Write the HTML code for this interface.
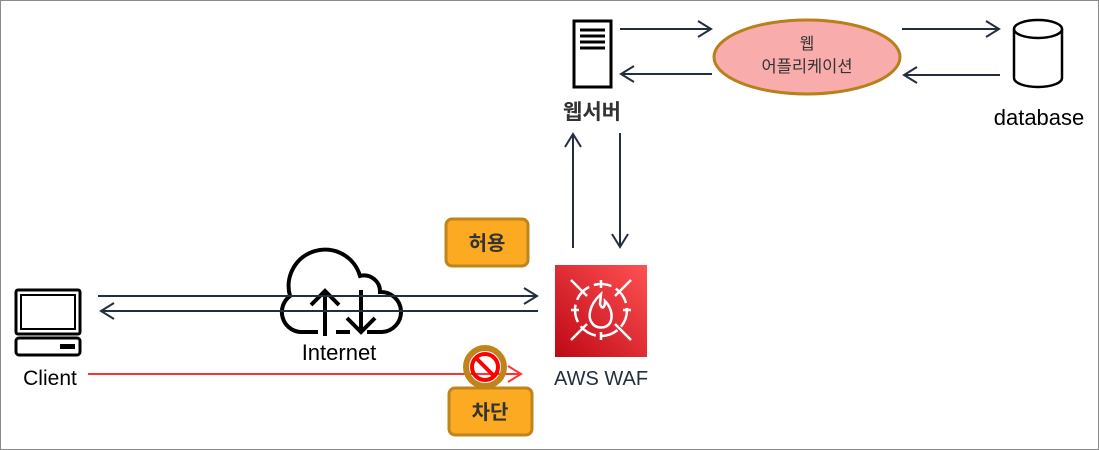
<!DOCTYPE html>
<html><head><meta charset="utf-8"><style>
html,body{margin:0;padding:0;background:#fff;}
svg{display:block;}
text{font-family:"Liberation Sans","Noto Sans CJK KR",sans-serif;}
</style></head><body>
<svg width="1099" height="450" viewBox="0 0 1099 450" xmlns="http://www.w3.org/2000/svg">
<defs>
<linearGradient id="waf" x1="0" y1="1" x2="1" y2="0">
<stop offset="0" stop-color="#bd0816"/><stop offset="1" stop-color="#ff5252"/>
</linearGradient>
</defs>
<rect x="0.5" y="0.5" width="1098" height="449" fill="#fff" stroke="#8a8a8a"/>
<g fill="none" stroke="#232f3e" stroke-width="2">
<line x1="620" y1="29" x2="710" y2="29"/><polyline points="698,21 711,29 698,37"/>
<line x1="712" y1="74" x2="622" y2="74"/><polyline points="634,66 621,74 634,82"/>
<line x1="902" y1="29" x2="998" y2="29"/><polyline points="986,21 999,29 986,37"/>
<line x1="1000" y1="75" x2="905" y2="75"/><polyline points="917,67 904,75 917,83"/>
<line x1="573" y1="248" x2="573" y2="135"/><polyline points="565,147 573,134 581,147"/>
<line x1="620" y1="133" x2="620" y2="246"/><polyline points="612,234 620,247 628,234"/>
<line x1="98" y1="296" x2="536" y2="296"/><polyline points="524,288 537,296 524,304"/>
<line x1="538" y1="311" x2="102" y2="311"/><polyline points="114,303 101,311 114,319"/>
</g>
<g fill="none" stroke="#f33" stroke-width="2">
<line x1="88" y1="374" x2="520" y2="374"/><polyline points="508,366 521,374 508,382"/>
</g>
<g fill="none" stroke="#000" stroke-width="3">
<rect x="574" y="21" width="37" height="66" fill="#fff"/>
<line x1="580" y1="30" x2="605" y2="30"/><line x1="580" y1="36" x2="605" y2="36"/>
<line x1="580" y1="42" x2="605" y2="42"/><line x1="580" y1="48" x2="605" y2="48"/>
</g>
<text x="592" y="119" font-size="21" font-weight="bold" text-anchor="middle" fill="#333">웹서버</text>
<ellipse cx="807" cy="57" rx="93" ry="37" fill="#f8acac" stroke="#b8801a" stroke-width="3"/>
<text x="807" y="49" font-size="16" text-anchor="middle" fill="#333">웹</text>
<text x="807" y="72" font-size="16.5" text-anchor="middle" fill="#333">어플리케이션</text>
<g fill="#fff" stroke="#000" stroke-width="2.5">
<path d="M1014,29 V78 A24,9 0 0 0 1062,78 V29"/>
<ellipse cx="1038" cy="29" rx="24" ry="9"/>
</g>
<text x="1039" y="125" font-size="22" text-anchor="middle" fill="#000">database</text>
<rect x="446" y="219" width="82" height="47" rx="6" fill="#fbaa22" stroke="#c0841a" stroke-width="3"/>
<text x="487" y="250" font-size="20" font-weight="bold" text-anchor="middle" fill="#333">허용</text>
<rect x="555" y="265" width="92" height="92" fill="url(#waf)"/>
<g fill="none" stroke="#fff" stroke-width="2.5">
<circle cx="601" cy="310" r="26" stroke-dasharray="18 5"/>
<line x1="571" y1="280" x2="587" y2="296"/><line x1="615" y1="324" x2="631" y2="340"/>
<line x1="631" y1="280" x2="615" y2="296"/><line x1="587" y1="324" x2="571" y2="340"/>
<line x1="601" y1="280" x2="601" y2="288"/><line x1="601" y1="332" x2="601" y2="340"/>
<line x1="571" y1="310" x2="579" y2="310"/><line x1="623" y1="310" x2="631" y2="310"/>
<path d="M601,294 C588,306 588,318 592,323 C596,329 606,329 610,323 C614,315 610,306 605,301 C605,308 602,310 600,304 Z"/>
</g>
<text x="601" y="385" font-size="20" text-anchor="middle" fill="#232f3e">AWS WAF</text>
<g fill="none" stroke="#000" stroke-width="3">
<rect x="16" y="290" width="64" height="44" rx="2"/>
<rect x="21" y="295" width="54" height="34" stroke-width="2"/>
<rect x="16" y="338" width="64" height="17" rx="3"/>
</g>
<rect x="60" y="344" width="15" height="5" fill="#000"/>
<text x="50" y="385" font-size="21" text-anchor="middle" fill="#000">Client</text>
<g fill="none" stroke="#000" stroke-width="4">
<path d="M318,332 H300 A20,20 0 0 1 290,296 A34,34 0 0 1 360,276 A16,16 0 0 1 380,292 A20,20 0 0 1 382,332 H367"/>
<line x1="336" y1="332" x2="350" y2="332"/>
<line x1="325" y1="336" x2="325" y2="292"/><polyline points="311,305 325,291 339,305"/>
<line x1="361" y1="290" x2="361" y2="333"/><polyline points="347,318 361,332 375,318"/>
</g>
<g stroke="#232f3e" stroke-width="2"><line x1="280" y1="296" x2="410" y2="296"/><line x1="280" y1="311" x2="410" y2="311"/></g>
<text x="339" y="360" font-size="22" text-anchor="middle" fill="#000">Internet</text>
<circle cx="485" cy="367" r="19" fill="none" stroke="#c0841a" stroke-width="6"/>
<circle cx="485" cy="367" r="13" fill="none" stroke="#f00" stroke-width="4"/>
<line x1="476" y1="358" x2="494" y2="376" stroke="#f00" stroke-width="4"/>
<rect x="449" y="388" width="83" height="47" rx="6" fill="#fbaa22" stroke="#c0841a" stroke-width="3"/>
<text x="490" y="419" font-size="20" font-weight="bold" text-anchor="middle" fill="#333">차단</text>
</svg>
</body></html>
